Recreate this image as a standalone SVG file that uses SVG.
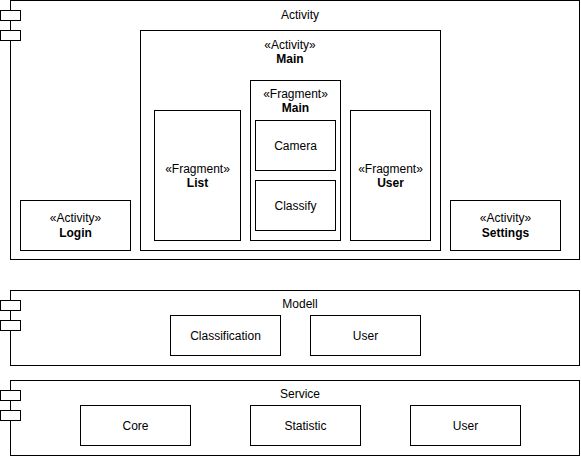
<svg xmlns="http://www.w3.org/2000/svg" width="581" height="456" viewBox="0 0 581 456">
<style>
.b{fill:#fff;stroke:#000;stroke-width:1}
text{font-family:"Liberation Sans",Arial,sans-serif;font-size:12px;fill:#000;text-anchor:middle}
.bold{font-weight:bold}
</style>
<rect width="581" height="456" fill="#fff"/>
<g id="activity">
<rect class="b" x="10.5" y="0.5" width="569" height="259"/>
<rect class="b" x="0.5" y="10.5" width="20" height="10"/>
<rect class="b" x="0.5" y="30.5" width="20" height="10"/>
<text x="300" y="19">Activity</text>
</g>
<g id="main-activity">
<rect class="b" x="140.5" y="30.5" width="300" height="220"/>
<text x="290" y="49">«Activity»</text>
<text x="290" y="63" class="bold">Main</text>
</g>
<g id="fragment-list">
<rect class="b" x="154.5" y="110.5" width="86" height="130"/>
<text x="197.5" y="173">«Fragment»</text>
<text x="197.5" y="187" class="bold">List</text>
</g>
<g id="fragment-main">
<rect class="b" x="250.5" y="80.5" width="90" height="160"/>
<text x="295.5" y="98">«Fragment»</text>
<text x="295.5" y="112" class="bold">Main</text>
</g>
<g id="camera">
<rect class="b" x="255.5" y="120.5" width="80" height="50"/>
<text x="295.5" y="150">Camera</text>
</g>
<g id="classify">
<rect class="b" x="255.5" y="180.5" width="80" height="50"/>
<text x="295.5" y="210">Classify</text>
</g>
<g id="fragment-user">
<rect class="b" x="350.5" y="110.5" width="80" height="130"/>
<text x="390.5" y="173">«Fragment»</text>
<text x="390.5" y="187" class="bold">User</text>
</g>
<g id="login">
<rect class="b" x="20.5" y="200.5" width="110" height="50"/>
<text x="75.5" y="222">«Activity»</text>
<text x="75.5" y="237" class="bold">Login</text>
</g>
<g id="settings">
<rect class="b" x="450.5" y="200.5" width="110" height="50"/>
<text x="505.5" y="222">«Activity»</text>
<text x="505.5" y="237" class="bold">Settings</text>
</g>
<g id="modell">
<rect class="b" x="10.5" y="290.5" width="569" height="75"/>
<rect class="b" x="0.5" y="300.5" width="20" height="10"/>
<rect class="b" x="0.5" y="320.5" width="20" height="10"/>
<text x="300" y="308">Modell</text>
</g>
<g id="classification">
<rect class="b" x="170.5" y="315.5" width="110" height="40"/>
<text x="225.5" y="340">Classification</text>
</g>
<g id="modell-user">
<rect class="b" x="310.5" y="315.5" width="110" height="40"/>
<text x="365.5" y="340">User</text>
</g>
<g id="service">
<rect class="b" x="10.5" y="380.5" width="569" height="75"/>
<rect class="b" x="0.5" y="390.5" width="20" height="10"/>
<rect class="b" x="0.5" y="410.5" width="20" height="10"/>
<text x="300" y="398">Service</text>
</g>
<g id="core">
<rect class="b" x="80.5" y="405.5" width="110" height="40"/>
<text x="135.5" y="430">Core</text>
</g>
<g id="statistic">
<rect class="b" x="250.5" y="405.5" width="110" height="40"/>
<text x="305.5" y="430">Statistic</text>
</g>
<g id="service-user">
<rect class="b" x="410.5" y="405.5" width="110" height="40"/>
<text x="465.5" y="430">User</text>
</g>
<g id="connectors"></g>
</svg>
